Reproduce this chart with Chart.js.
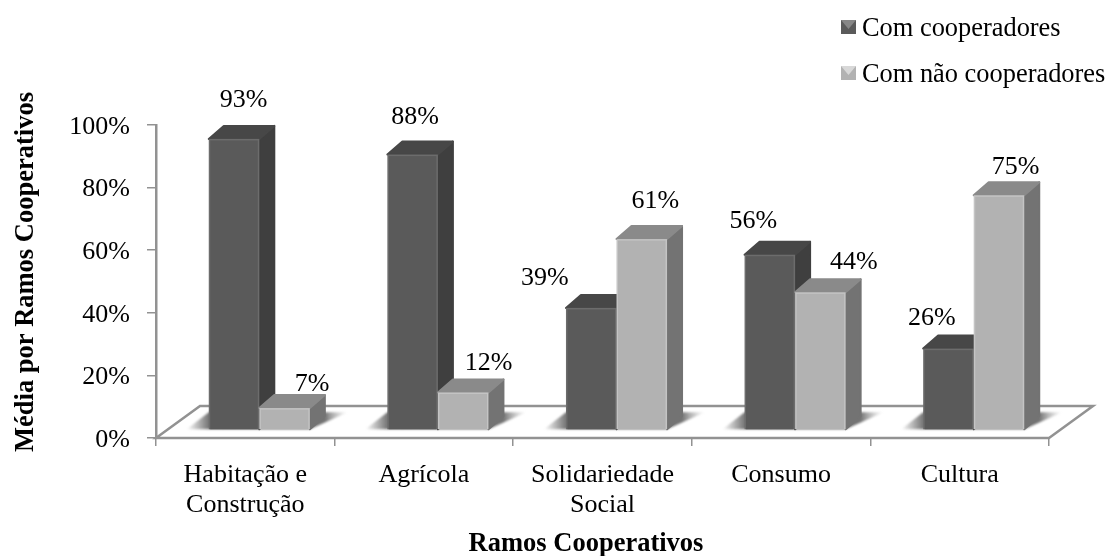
<!DOCTYPE html>
<html>
<head>
<meta charset="utf-8">
<script src="https://cdn.jsdelivr.net/npm/chart.js@4"></script>
<style>
  html, body { margin: 0; padding: 0; background: #fff; }
  canvas { display: block; filter: blur(0.4px); }
</style>
</head>
<body>
<canvas id="chart" width="1109" height="556"></canvas>
<script>
const categories = [['Habitação e', 'Construção'], 'Agrícola', ['Solidariedade', 'Social'], 'Consumo', 'Cultura'];
const comCooperadores = [93, 88, 39, 56, 26];
const comNaoCooperadores = [7, 12, 61, 44, 75];
const yTicks = [0, 20, 40, 60, 80, 100];
const xTitle = 'Ramos Cooperativos';
const yTitle = 'Média por Ramos Cooperativos';

// hand placed value labels, the original has them dragged around
const labelNudgeX = [[2, -5, -54, -24, -24], [20, 18, 6, 26, 9]];
const labelNudgeY = [[-2, 0, 7, 3, 7], [13, 8, -1, 7, 9]];

const FONT = '"Liberation Serif", "Times New Roman", serif';
const AXIS_GREY = '#929292';
// fake 3D: floor depth, where the bars stand on it, and bar depth
const FLOOR = { dx: 44, dy: 32 };
const STAND = { dx: 14, dy: 8 };
const DEPTH = { dx: 15, dy: 13 };

const faces = [
    { front: '#5a5a5a', edge: '#6c6c6c', side: '#3f3f3f', top: '#474747' },
    { front: '#b2b2b2', edge: '#c4c4c4', side: '#737373', top: '#8a8a8a' }
];

function poly(ctx, pts, fill) {
    ctx.beginPath();
    pts.forEach((p, i) => i ? ctx.lineTo(p[0], p[1]) : ctx.moveTo(p[0], p[1]));
    ctx.closePath();
    if (fill) {
        ctx.fillStyle = fill;
        ctx.fill();
        // rounds the outer corners of the faces a little
        ctx.strokeStyle = fill;
        ctx.lineWidth = 2;
        ctx.lineJoin = 'round';
        ctx.stroke();
    }
}

function drawFloor(chart) {
    const ctx = chart.ctx;
    const a = chart.chartArea;
    const pts = [
        [a.left, a.bottom],
        [a.right, a.bottom],
        [a.right + FLOOR.dx, a.bottom - FLOOR.dy],
        [a.left + FLOOR.dx, a.bottom - FLOOR.dy]
    ];
    ctx.beginPath();
    pts.forEach((p, i) => i ? ctx.lineTo(p[0], p[1]) : ctx.moveTo(p[0], p[1]));
    ctx.closePath();
    ctx.fillStyle = '#ffffff';
    ctx.fill();
    ctx.lineWidth = 2.5;
    ctx.lineJoin = 'miter';
    ctx.strokeStyle = AXIS_GREY;
    ctx.stroke();

    // soft shadows the bars throw on the floor
    ctx.save();
    ctx.filter = 'blur(1px)';
    const first = chart.getDatasetMeta(0).data;
    const second = chart.getDatasetMeta(1).data;
    first.forEach((bar, i) => {
        const x0 = bar.x - bar.width / 2 + STAND.dx;
        const x1 = second[i].x + second[i].width / 2 + STAND.dx;
        const y1 = bar.base - STAND.dy;
        const y0 = y1 - 17;
        const left = x0 - 22;
        const right = x1 + 38;
        const g = ctx.createLinearGradient(left, 0, right, 0);
        g.addColorStop(0, 'rgba(110,110,110,0)');
        g.addColorStop((x0 - left) / (right - left), 'rgba(110,110,110,0.95)');
        g.addColorStop((x1 + 15 - left) / (right - left), 'rgba(115,115,115,1)');
        g.addColorStop(1, 'rgba(170,170,170,0)');
        ctx.beginPath();
        ctx.moveTo(left, y1);
        ctx.lineTo(x0, y0);
        ctx.lineTo(right, y0);
        ctx.lineTo(x1, y1);
        ctx.closePath();
        ctx.fillStyle = g;
        ctx.fill();
    });
    ctx.restore();
}

function drawBar(ctx, bar, face) {
    const x0 = bar.x - bar.width / 2 + STAND.dx;
    const x1 = x0 + bar.width;
    const yTop = bar.y - STAND.dy;
    const yBase = bar.base - STAND.dy;
    const d = DEPTH;
    poly(ctx, [[x1, yTop], [x1 + d.dx, yTop - d.dy], [x1 + d.dx, yBase - d.dy], [x1, yBase]], face.side);
    poly(ctx, [[x0, yTop], [x0 + d.dx, yTop - d.dy], [x1 + d.dx, yTop - d.dy], [x1, yTop]], face.top);
    ctx.fillStyle = face.edge;
    ctx.fillRect(x0, yTop, bar.width, yBase - yTop);
    ctx.fillStyle = face.front;
    ctx.fillRect(x0 + 1.5, yTop + 1.5, bar.width - 3, yBase - yTop - 1.5);
}

function drawLegend(chart) {
    const ctx = chart.ctx;
    const rowY = [27, 73];
    chart.data.datasets.forEach((ds, i) => {
        const y = rowY[i];
        const face = faces[i];
        ctx.fillStyle = face.front;
        ctx.fillRect(841, y - 7, 15, 14);
        ctx.beginPath();
        ctx.moveTo(841, y - 7);
        ctx.lineTo(856, y - 7);
        ctx.lineTo(848.5, y + 2);
        ctx.closePath();
        ctx.fillStyle = i ? '#d8d8d8' : '#868686';
        ctx.fill();
        ctx.fillStyle = '#000';
        ctx.font = '26.4px ' + FONT;
        ctx.textAlign = 'left';
        ctx.textBaseline = 'middle';
        ctx.fillText(ds.label, 862, y + 2);
    });
}

function drawTitles(chart) {
    const ctx = chart.ctx;
    ctx.save();
    ctx.fillStyle = '#000';
    ctx.font = 'bold 26.5px ' + FONT;
    ctx.textAlign = 'center';
    ctx.textBaseline = 'alphabetic';
    ctx.fillText(xTitle, 586, 551);
    ctx.translate(33, 272);
    ctx.rotate(-Math.PI / 2);
    ctx.fillText(yTitle, 0, 0);
    ctx.restore();
}

const bars3d = {
    id: 'bars3d',
    beforeDatasetsDraw(chart) {
        const ctx = chart.ctx;
        drawFloor(chart);
        const metas = chart.data.datasets.map((_, i) => chart.getDatasetMeta(i).data);
        categories.forEach((_, c) => {
            metas.forEach((bars, s) => drawBar(ctx, bars[c], faces[s]));
        });
        // value labels
        ctx.fillStyle = '#000';
        ctx.font = '26px ' + FONT;
        ctx.textAlign = 'center';
        ctx.textBaseline = 'middle';
        metas.forEach((bars, s) => {
            bars.forEach((bar, c) => {
                const value = chart.data.datasets[s].data[c];
                const x = bar.x + STAND.dx + DEPTH.dx / 2 + labelNudgeX[s][c];
                const y = bar.y - STAND.dy - DEPTH.dy - 24 + labelNudgeY[s][c];
                ctx.fillText(value + '%', x, y);
            });
        });
        drawLegend(chart);
        drawTitles(chart);
        return false; // the flat bars are not wanted
    }
};

new Chart(document.getElementById('chart').getContext('2d'), {
    type: 'bar',
    data: {
        labels: categories,
        datasets: [
            { label: 'Com cooperadores', data: comCooperadores, backgroundColor: faces[0].front },
            { label: 'Com não cooperadores', data: comNaoCooperadores, backgroundColor: faces[1].front }
        ]
    },
    plugins: [bars3d],
    options: {
        responsive: false,
        animation: false,
        layout: { autoPadding: false, padding: { top: 125, right: 60, left: 0, bottom: 0 } },
        datasets: { bar: { categoryPercentage: 0.566, barPercentage: 1 } },
        plugins: { legend: { display: false }, tooltip: { enabled: false } },
        scales: {
            x: {
                afterFit(s) { s.height = 118; },
                grid: { drawOnChartArea: false, color: AXIS_GREY, tickColor: AXIS_GREY, tickLength: 8, lineWidth: 1.5 },
                border: { color: AXIS_GREY, width: 2 },
                ticks: { color: '#000', maxRotation: 0, autoSkip: false, padding: 14, font: { family: FONT, size: 26, lineHeight: 1.16 } }
            },
            y: {
                min: 0,
                max: 100,
                afterFit(s) { s.width = 156; },
                afterBuildTicks(s) { s.ticks = yTicks.map(v => ({ value: v })); },
                grid: { drawOnChartArea: false, color: AXIS_GREY, tickColor: AXIS_GREY, tickLength: 9, lineWidth: 1.5 },
                border: { color: AXIS_GREY, width: 2.5 },
                ticks: { color: '#000', padding: 17, labelOffset: 2, font: { family: FONT, size: 26 }, callback: v => v + '%' }
            }
        }
    }
});
</script>
</body>
</html>
